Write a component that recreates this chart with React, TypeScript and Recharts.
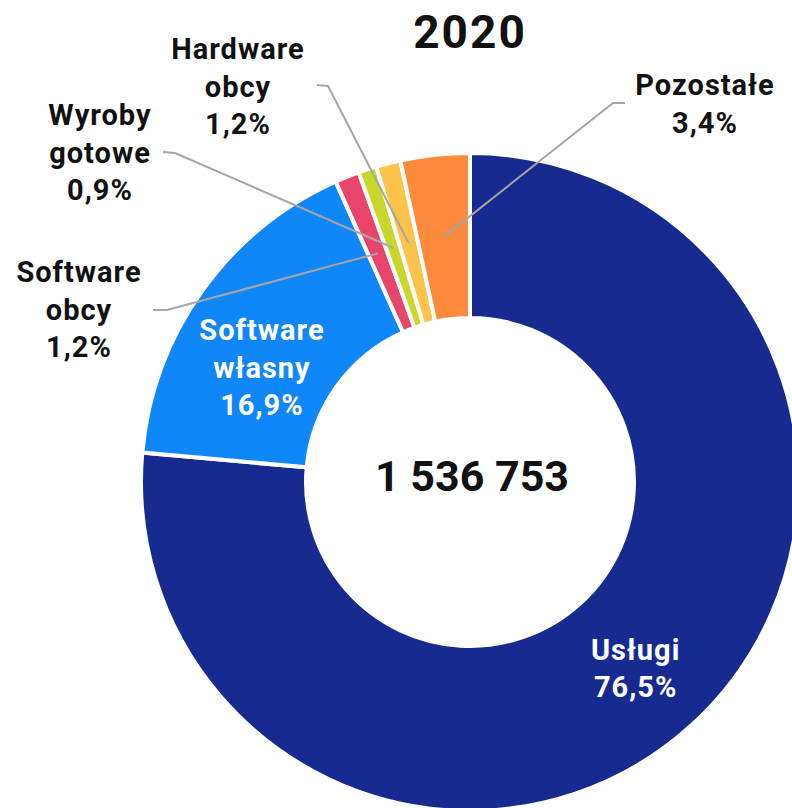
import { PieChart, Pie, Cell } from "recharts";

const categories = [
  "Usługi",
  "Software własny",
  "Software obcy",
  "Wyroby gotowe",
  "Hardware obcy",
  "Pozostałe",
];
const shares = [76.5, 16.9, 1.2, 0.9, 1.2, 3.4];
const colors = ["#172a8f", "#0f87f8", "#e9446a", "#c8d72a", "#fcc24a", "#fd8b3b"];
const year = "2020";
const total = 1536753;

const data = categories.map((name, i) => ({ name, value: shares[i] }));

const RADIAN = Math.PI / 180;
const FONT = "Roboto, 'Noto Sans', sans-serif";
const LINE_H = 37.5;

// label placement, offsets from the pie centre
type Layout =
  | { inside: true; shift: [number, number] }
  | { inside: false; text: [number, number]; elbow: [number, number][] };

const labelLayout: Record<string, Layout> = {
  "Usługi": { inside: true, shift: [-1, 4] },
  "Software własny": { inside: true, shift: [-7, 29] },
  "Software obcy": { inside: false, text: [-391, -200], elbow: [[-317, -172], [-303, -172]] },
  "Wyroby gotowe": { inside: false, text: [-370, -357], elbow: [[-307, -330], [-295, -329]] },
  "Hardware obcy": { inside: false, text: [-232, -423], elbow: [[-153, -397], [-142, -396]] },
  "Pozostałe": { inside: false, text: [235, -387], elbow: [[155, -379], [143, -379]] },
};

const fmtPct = (v: number) => `${v.toFixed(1).replace(".", ",")}%`;
const fmtTotal = (v: number) => v.toString().replace(/\B(?=(\d{3})+(?!\d))/g, " ");

function renderLabel(props: any) {
  const { cx, cy, midAngle, innerRadius, outerRadius, name, value } = props;
  const layout = labelLayout[name];
  if (!layout) return null;
  const lines = [...name.split(" "), fmtPct(value)];
  const cos = Math.cos(-midAngle * RADIAN);
  const sin = Math.sin(-midAngle * RADIAN);

  if (layout.inside) {
    const r = 247;
    const x = cx + r * cos + layout.shift[0];
    const y = cy + r * sin + layout.shift[1];
    const y0 = y - ((lines.length - 1) * LINE_H) / 2 + 10;
    return (
      <text
        x={x}
        textAnchor="middle"
        fill="#fff"
        fontSize={29}
        fontWeight={700}
        fontFamily={FONT}
        letterSpacing={1}
      >
        {lines.map((l, i) => (
          <tspan key={i} x={x} y={y0 + i * LINE_H}>
            {l}
          </tspan>
        ))}
      </text>
    );
  }

  const mr = (innerRadius + outerRadius) / 2;
  const px = cx + mr * cos;
  const py = cy + mr * sin;
  const pts = [...layout.elbow.map(([dx, dy]) => `${cx + dx},${cy + dy}`), `${px},${py}`].join(" ");
  const tx = cx + layout.text[0];
  const ty = cy + layout.text[1];
  return (
    <g>
      <polyline points={pts} fill="none" stroke="#a6a6a6" strokeWidth={2} />
      <text
        x={tx}
        textAnchor="middle"
        fill="#111"
        fontSize={29}
        fontWeight={700}
        fontFamily={FONT}
        letterSpacing={1}
      >
        {lines.map((l, i) => (
          <tspan key={i} x={tx} y={ty + i * LINE_H}>
            {l}
          </tspan>
        ))}
      </text>
    </g>
  );
}

export default function App() {
  return (
    <div style={{ position: "absolute", left: 0, top: 0, width: 792, height: 808, background: "#fff" }}>
      <PieChart width={792} height={808} margin={{ top: 0, right: 0, bottom: 0, left: 0 }}>
        <text
          x={470}
          y={48}
          textAnchor="middle"
          fill="#111"
          fontSize={46}
          fontWeight={700}
          fontFamily={FONT}
          letterSpacing={2}
        >
          {year}
        </text>
        <Pie
          data={data}
          dataKey="value"
          nameKey="name"
          cx={470}
          cy={482}
          innerRadius={164}
          outerRadius={329}
          startAngle={90}
          endAngle={-270}
          stroke="#fff"
          strokeWidth={4}
          label={renderLabel}
          labelLine={false}
          isAnimationActive={false}
        >
          {data.map((d, i) => (
            <Cell key={d.name} fill={colors[i]} />
          ))}
        </Pie>
        <text
          x={472}
          y={491}
          textAnchor="middle"
          fill="#111"
          fontSize={43}
          fontWeight={700}
          fontFamily={FONT}
        >
          {fmtTotal(total)}
        </text>
      </PieChart>
    </div>
  );
}
